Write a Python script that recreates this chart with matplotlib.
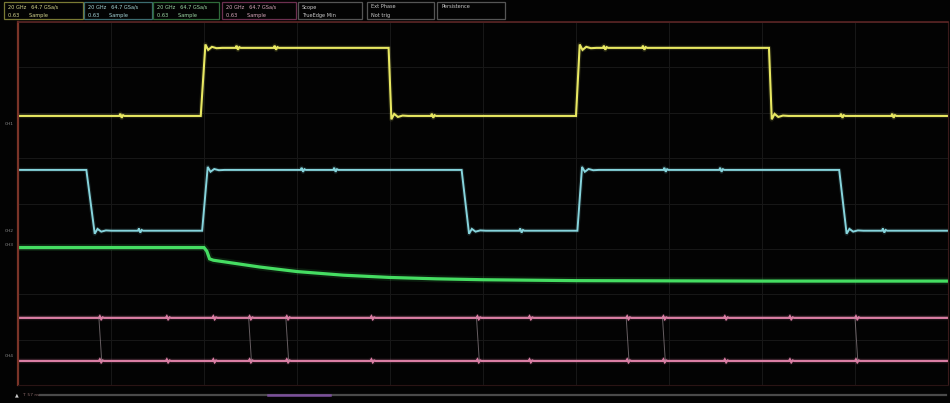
"""Four-channel scope capture: clock, gate, supply droop and strobe pulses."""
import matplotlib
matplotlib.use("Agg")
import matplotlib.pyplot as plt
from matplotlib.patches import Rectangle
from matplotlib.lines import Line2D

# ---- data, in screen divisions (10 across, 8 high centred on 0) ----
ch1_levels = (1.93, 3.43)            # low, high
ch1_edges = [1.99, 4.00, 6.02, 8.09]
ch1_width = [0.05, 0.03, 0.04, 0.03]
ch1_start_high = False
ch1_glitch = [1.10, 2.35, 2.76, 4.45, 6.30, 6.72, 8.85, 9.40]

ch2_levels = (-0.60, 0.74)
ch2_edges = [0.78, 2.01, 4.81, 6.04, 8.87]
ch2_width = [0.09, 0.06, 0.08, 0.05, 0.08]
ch2_start_high = True
ch2_glitch = [1.30, 3.05, 3.40, 5.40, 6.95, 7.55, 9.30]

ring_dt = [0.0, 0.03, 0.07, 0.12, 0.18]
ring_amp = [0.05, -0.03, 0.015, -0.005, 0.0]
glitch_shape = [0.0, 0.035, -0.03, 0.012, 0.0]
glitch_dt = [-0.01, 0.0, 0.015, 0.03, 0.045]

ch3_t = [0.0, 2.00, 2.03, 2.06, 2.10, 2.30, 2.60, 3.00, 3.50, 4.00, 4.50,
         5.00, 6.00, 8.00, 10.0]
ch3_v = [-0.97, -0.97, -1.05, -1.22, -1.25, -1.31, -1.40, -1.50, -1.58,
         -1.63, -1.66, -1.68, -1.70, -1.71, -1.71]

ch4_levels = (-3.47, -2.52)
ch4_edges = [0.88, 2.49, 2.89, 4.94, 6.55, 6.94, 9.01]
ch4_glitch = [1.60, 2.10, 3.80, 5.50, 7.60, 8.30]

colors = {"ch1": "#e8e862", "ch2": "#86d4dc", "ch3": "#45dd62", "ch4": "#da7ea4"}

header_boxes = [
    ("20 GHz   64.7 GSa/s", "0.63      Sample", "#7a7a34", "#d8d890", 4, 83),
    ("20 GHz   64.7 GSa/s", "0.63      Sample", "#3c6c70", "#a8d8dc", 84, 152),
    ("20 GHz   64.7 GSa/s", "0.63      Sample", "#2f6a3a", "#a0dca8", 153, 219),
    ("20 GHz   64.7 GSa/s", "0.63      Sample", "#6c3050", "#dcaabf", 222, 296),
    ("Scope", "TrueEdge Min", "#555555", "#cccccc", 298, 362),
    ("Ext Phase", "Not trig", "#555555", "#cccccc", 367, 434),
    ("Persistence", "", "#555555", "#cccccc", 437, 505),
]
ch_labels = [("CH1", 124), ("CH2", 231), ("CH3", 245), ("CH4", 356)]


def step_trace(edges, widths, levels, start_high, glitches):
    low, high = levels
    swing = high - low
    level = high if start_high else low
    pts = [(0.0, level)]
    for e, w in zip(edges, widths):
        new = low if level == high else high
        sign = 1 if new == high else -1
        pts.append((e - w / 2, level))
        for dt, a in zip(ring_dt, ring_amp):
            pts.append((e + w / 2 + dt, new + sign * a * swing))
        level = new
    pts.append((10.0, level))
    for g in glitches:
        n = sum(1 for e in edges if e < g)
        lvl = (high if start_high else low) if n % 2 == 0 else \
              (low if start_high else high)
        for dt, a in zip(glitch_dt, glitch_shape):
            pts.append((g + dt, lvl + a * 1.4))
    pts.sort()
    return [p[0] for p in pts], [p[1] for p in pts]


def glow_plot(ax, t, v, color, lw):
    ax.plot(t, v, color=color, lw=lw * 2.2, alpha=0.12, solid_capstyle="butt")
    ax.plot(t, v, color=color, lw=lw, solid_joinstyle="miter")


W, H = 950, 403
fig = plt.figure(figsize=(W / 100, H / 100), dpi=100, facecolor="#030303")

ax = fig.add_axes([18 / W, 18 / H, 930 / W, 363 / H], facecolor="#030303")
ax.set_xlim(0, 10)
ax.set_ylim(-4, 4)
ax.set_xticks(range(11))
ax.set_yticks(range(-4, 5))
ax.grid(True, color="#181818", lw=0.7)
ax.tick_params(length=0, labelbottom=False, labelleft=False)
for side, c in [("left", "#7a3428"), ("top", "#5a2424"),
                ("right", "#3a1a1a"), ("bottom", "#2a1414")]:
    ax.spines[side].set_color(c)
ax.spines["left"].set_linewidth(1.6)
ax.spines["top"].set_linewidth(1.2)

t1, v1 = step_trace(ch1_edges, ch1_width, ch1_levels, ch1_start_high, ch1_glitch)
glow_plot(ax, t1, v1, colors["ch1"], 1.5)

t2, v2 = step_trace(ch2_edges, ch2_width, ch2_levels, ch2_start_high, ch2_glitch)
glow_plot(ax, t2, v2, colors["ch2"], 1.4)

glow_plot(ax, ch3_t, ch3_v, colors["ch3"], 2.3)

# ch4: persistence shows both levels plus faint pulse edges
low4, high4 = ch4_levels
for lvl in (low4, high4):
    t4 = [0.0, 10.0]
    v4 = [lvl, lvl]
    for g in ch4_glitch + ch4_edges:
        for dt, a in zip(glitch_dt, glitch_shape):
            t4.append(g + dt)
            v4.append(lvl + a * 0.9)
    order = sorted(range(len(t4)), key=lambda i: t4[i])
    glow_plot(ax, [t4[i] for i in order], [v4[i] for i in order], colors["ch4"], 1.6)
for e in ch4_edges:
    ax.plot([e - 0.01, e + 0.02], [high4, low4], color="#a89aa0", lw=0.7, alpha=0.6)

# trigger marker at left edge
ax.plot([0.0, 0.0], [-3.55, -4.0], color="#c06a2a", lw=1.4, clip_on=False)

# ---- header strip ----
hd = fig.add_axes([0, 1 - 22 / H, 1, 22 / H], facecolor="#030303")
hd.set_xlim(0, W)
hd.set_ylim(22, 0)
hd.axis("off")
for l1, l2, edge, tc, x0, x1 in header_boxes:
    hd.add_patch(Rectangle((x0, 2), x1 - x0, 17, fill=False, ec=edge, lw=0.9))
    hd.text(x0 + 4, 7, l1, color=tc, fontsize=3.6, va="center", ha="left")
    hd.text(x0 + 4, 15, l2, color=tc, fontsize=3.6, va="center", ha="left")

# ---- channel labels ----
for name, y in ch_labels:
    fig.text(5 / W, 1 - y / H, name, color="#8a8a8a", fontsize=3.2,
             va="center", ha="left")

# ---- bottom status / scroll bar ----
bt = fig.add_axes([0, 0, 1, 18 / H], facecolor="#030303")
bt.set_xlim(0, W)
bt.set_ylim(18, 0)
bt.axis("off")
bt.add_line(Line2D([40, 946], [10, 10], color="#4a4a4a", lw=1.6))
bt.add_line(Line2D([268, 330], [10, 10], color="#7a4e9a", lw=1.8))
bt.text(15, 10, "\u25b2", color="#cccccc", fontsize=3.5, va="center", ha="left")
bt.text(22, 10, "T  57 ns", color="#8a6a6a", fontsize=3.2, va="center", ha="left")

fig.savefig("out.png", dpi=100, facecolor=fig.get_facecolor())
